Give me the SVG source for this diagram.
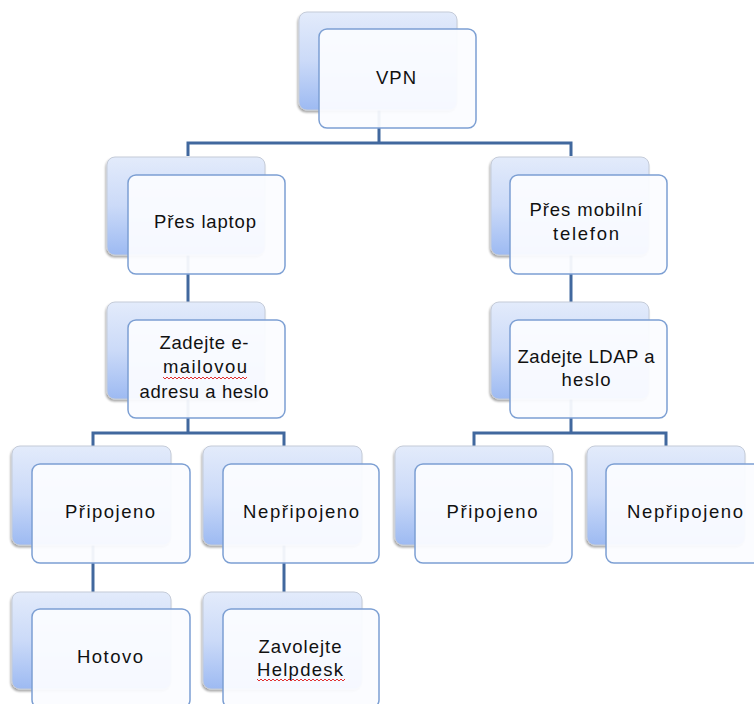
<svg xmlns="http://www.w3.org/2000/svg" width="754" height="704" viewBox="0 0 754 704">
<defs>
<linearGradient id="bg" x1="0" y1="0" x2="0" y2="1">
<stop offset="0" stop-color="#e3ebfb"/>
<stop offset="0.5" stop-color="#cbdaf8"/>
<stop offset="1" stop-color="#9dbaf2"/>
</linearGradient>
<filter id="sh" x="-10%" y="-10%" width="120%" height="125%">
<feGaussianBlur in="SourceAlpha" stdDeviation="1.2"/>
<feOffset dx="-1" dy="2"/>
<feComponentTransfer><feFuncA type="linear" slope="0.35"/></feComponentTransfer>
<feMerge><feMergeNode/><feMergeNode in="SourceGraphic"/></feMerge>
</filter>
</defs>
<style>
.back{fill:url(#bg);stroke:#c4cbd8;stroke-width:1;filter:url(#sh)}
.front{fill:#fbfcff;fill-opacity:0.94;stroke:#7c9fd3;stroke-width:1.5}
.conn{fill:none;stroke:#41689e;stroke-width:3}
.t{font-family:"Liberation Sans",Arial,sans-serif;font-size:18.5px;fill:#111;text-anchor:middle}
.sp{fill:none;stroke:#e03030;stroke-width:1}
</style>
<rect width="754" height="704" fill="#ffffff"/>
<g id="connectors">
<path class="conn" d="M379 110 V143 M188 156 V143 H571 V156"/>
<path class="conn" d="M188 255 V302"/>
<path class="conn" d="M571 255 V302"/>
<path class="conn" d="M188 399 V433 M93 446 V433 H284 V446"/>
<path class="conn" d="M571 399 V433 M474 446 V433 H666 V446"/>
<path class="conn" d="M93 545 V592"/>
<path class="conn" d="M284 545 V592"/>
</g>
<g id="vpn">
<rect class="back" x="299" y="12" width="158" height="98" rx="8"/>
<rect class="front" x="319" y="29" width="157" height="99" rx="8"/>
<text class="t" x="396" y="84" textLength="40">VPN</text>
</g>
<g id="laptop">
<rect class="back" x="107" y="157" width="158" height="98" rx="8"/>
<rect class="front" x="128" y="175" width="157" height="99" rx="8"/>
<text class="t" x="205" y="228" textLength="102">Přes laptop</text>
</g>
<g id="mobil">
<rect class="back" x="491" y="157" width="158" height="98" rx="8"/>
<rect class="front" x="510" y="175" width="157" height="99" rx="8"/>
<text class="t" x="586" y="216" textLength="113">Přes mobilní</text>
<text class="t" x="586" y="240" textLength="66">telefon</text>
</g>
<g id="email">
<rect class="back" x="107" y="302" width="158" height="97" rx="8"/>
<rect class="front" x="128" y="320" width="157" height="98" rx="8"/>
<text class="t" x="204" y="349" textLength="89">Zadejte e-</text>
<text class="t" x="205" y="373" textLength="84">mailovou</text>
<path class="sp" d="M163 377 l2 2 l2 -2 l2 2 l2 -2 l2 2 l2 -2 l2 2 l2 -2 l2 2 l2 -2 l2 2 l2 -2 l2 2 l2 -2 l2 2 l2 -2 l2 2 l2 -2 l2 2 l2 -2 l2 2 l2 -2 l2 2 l2 -2 l2 2 l2 -2 l2 2 l2 -2 l2 2 l2 -2 l2 2 l2 -2 l2 2 l2 -2 l2 2 l2 -2 l2 2 l2 -2 l2 2 l2 -2 l2 2 l2 -2"/>
<text class="t" x="204" y="398" textLength="129">adresu a heslo</text>
</g>
<g id="ldap">
<rect class="back" x="491" y="302" width="158" height="97" rx="8"/>
<rect class="front" x="510" y="320" width="157" height="98" rx="8"/>
<text class="t" x="586" y="363" textLength="137">Zadejte LDAP a</text>
<text class="t" x="586" y="386" textLength="49">heslo</text>
</g>
<g id="pripojeno1">
<rect class="back" x="12" y="446" width="159" height="99" rx="8"/>
<rect class="front" x="32" y="464" width="158" height="99" rx="8"/>
<text class="t" x="110" y="518" textLength="90">Připojeno</text>
</g>
<g id="nepripojeno1">
<rect class="back" x="203" y="446" width="159" height="99" rx="8"/>
<rect class="front" x="223" y="464" width="156" height="99" rx="8"/>
<text class="t" x="301" y="518" textLength="116">Nepřipojeno</text>
</g>
<g id="pripojeno2">
<rect class="back" x="395" y="446" width="158" height="99" rx="8"/>
<rect class="front" x="415" y="464" width="157" height="99" rx="8"/>
<text class="t" x="492" y="518" textLength="91">Připojeno</text>
</g>
<g id="nepripojeno2">
<rect class="back" x="587" y="446" width="158" height="99" rx="8"/>
<rect class="front" x="606" y="464" width="157" height="99" rx="8"/>
<text class="t" x="685" y="518" textLength="116">Nepřipojeno</text>
</g>
<g id="hotovo">
<rect class="back" x="12" y="592" width="159" height="97" rx="8"/>
<rect class="front" x="32" y="609" width="158" height="99" rx="8"/>
<text class="t" x="110" y="663" textLength="66">Hotovo</text>
</g>
<g id="helpdesk">
<rect class="back" x="203" y="592" width="159" height="97" rx="8"/>
<rect class="front" x="223" y="609" width="156" height="99" rx="8"/>
<text class="t" x="300" y="653" textLength="83">Zavolejte</text>
<text class="t" x="300" y="676" textLength="86">Helpdesk</text>
<path class="sp" d="M257 679 l2 2 l2 -2 l2 2 l2 -2 l2 2 l2 -2 l2 2 l2 -2 l2 2 l2 -2 l2 2 l2 -2 l2 2 l2 -2 l2 2 l2 -2 l2 2 l2 -2 l2 2 l2 -2 l2 2 l2 -2 l2 2 l2 -2 l2 2 l2 -2 l2 2 l2 -2 l2 2 l2 -2 l2 2 l2 -2 l2 2 l2 -2 l2 2 l2 -2 l2 2 l2 -2 l2 2 l2 -2 l2 2 l2 -2 l2 2 l2 -2"/>
</g>
</svg>
